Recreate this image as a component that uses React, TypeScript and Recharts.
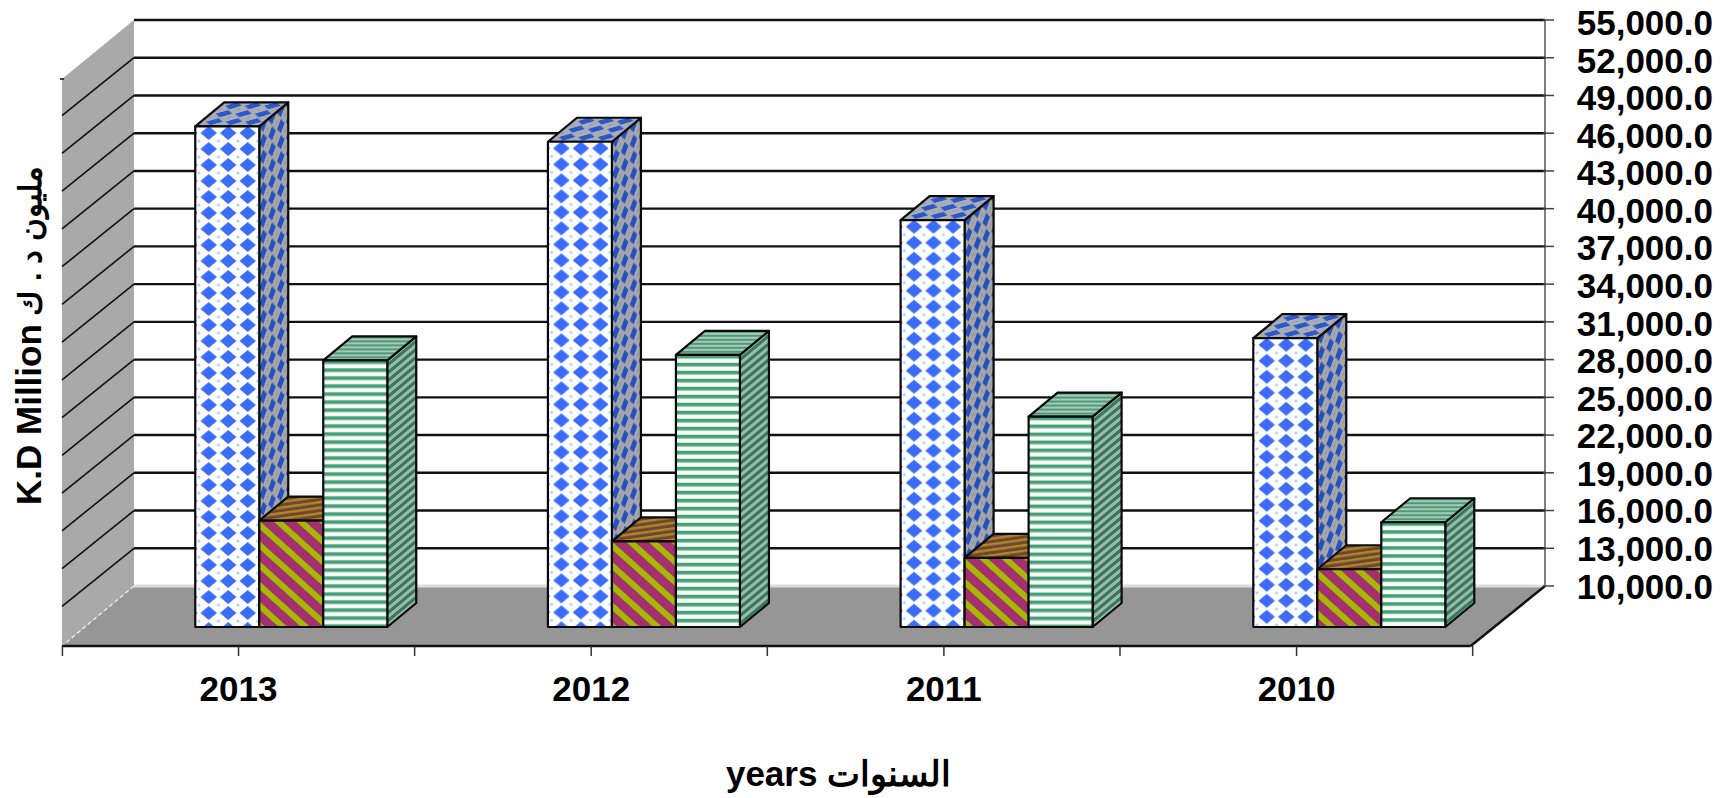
import { BarChart, Bar, XAxis, YAxis, CartesianGrid } from 'recharts';

const years = ['2013', '2012', '2011', '2010'];
const totalAssets = [49800, 48580, 42350, 32960];
const smallSeries = [18460, 16810, 15490, 14590];
const greenSeries = [31200, 31640, 26730, 18330];

const yTicks = [10000, 13000, 16000, 19000, 22000, 25000, 28000, 31000, 34000, 37000, 40000, 43000, 46000, 49000, 52000, 55000];
const minorTicks = [10000, 12000, 14000, 16000, 18000, 20000, 22000, 24000, 26000, 28000, 30000, 32000, 34000, 36000, 38000, 40000, 42000, 44000, 46000, 48000, 50000, 52000, 54000];

const data = years.map((year, i) => ({
  year,
  blue: totalAssets[i],
  purple: smallSeries[i],
  green: greenSeries[i],
}));

const WIDTH = 1729;
const HEIGHT = 798;
const FONT = '"Liberation Sans", Arial, sans-serif';

// the bars stand on a plane inside the 3d box, the walls are offset from it
const BAR_DX = 29;
const BAR_DY = 24;
const WALL_LEFT = 134;
const WALL_RIGHT = 1545;
const WALL_TOP = 20;
const WALL_BOTTOM = 586;
const FRONT_LEFT = 62;
const FRONT_RIGHT = 1470.7;
const FRONT_Y = 646;
const BACK_SHIFT = -41;
const LABEL_SHIFT = -53;
const HALF_BAND = 176.1;

function Patterns() {
  const diamond = (id: string, bg: string, fg: string, dot: string, transform?: string) => (
    <pattern id={id} x={3.7} y={-1.4} width={19.5} height={16} patternUnits="userSpaceOnUse" patternTransform={transform}>
      <rect width={19.5} height={16} fill={bg} />
      <path d="M1.5 8 L9.75 1 L18 8 L9.75 15 Z" fill={fg} />
      <circle cx={0} cy={0} r={1.6} fill={dot} />
      <circle cx={19.5} cy={0} r={1.6} fill={dot} />
      <circle cx={0} cy={16} r={1.6} fill={dot} />
      <circle cx={19.5} cy={16} r={1.6} fill={dot} />
    </pattern>
  );
  const stripes = (id: string, size: number, band: number, bg: string, fg: string, transform?: string) => (
    <pattern id={id} width={size} height={size} patternUnits="userSpaceOnUse" patternTransform={transform}>
      <rect width={size} height={size} fill={bg} />
      <rect width={size} height={band} fill={fg} />
    </pattern>
  );
  return (
    <defs>
      {diamond('blueFront', '#ffffff', '#3a6cf8', '#b9ccfb')}
      {diamond('blueSide', '#a6a6a6', '#2450c4', '#7f8fb8', 'matrix(0.453,-0.375,0,1,0,0)')}
      {diamond('blueTop', '#a9adb6', '#2b57c8', '#8c9ac0', 'matrix(1,0,-0.6,0.5,0,0)')}
      {stripes('purpleFront', 15, 6, '#a4306f', '#a6b800', 'rotate(42)')}
      {stripes('purpleTop', 5.5, 2.4, '#74442f', '#a98a2a', 'rotate(-8)')}
      {stripes('purpleSide', 8, 3, '#6e2750', '#7d8c10', 'matrix(0.453,-0.375,0,1,0,0)')}
      {stripes('greenFront', 8, 3.6, '#f6fbf8', '#46a077')}
      {stripes('greenSide', 8, 4, '#a4b6ab', '#2f7d5c', 'matrix(1,-0.83,0,1,0,0)')}
      {stripes('greenTop', 4, 2, '#a6cbb8', '#4f9878')}
    </defs>
  );
}

function Box({ x, y, width, height, kind }: any) {
  const stroke = { stroke: '#0a0a0a', strokeWidth: 2.2, strokeLinejoin: 'round' as const };
  return (
    <g transform={`translate(${x},${y})`}>
      <polygon
        points={`${width},0 ${width + BAR_DX},${-BAR_DY} ${width + BAR_DX},${height - BAR_DY} ${width},${height}`}
        fill={`url(#${kind}Side)`}
        {...stroke}
      />
      <polygon
        points={`0,0 ${BAR_DX},${-BAR_DY} ${width + BAR_DX},${-BAR_DY} ${width},0`}
        fill={`url(#${kind}Top)`}
        {...stroke}
      />
      <rect width={width} height={height} fill={`url(#${kind}Front)`} {...stroke} />
    </g>
  );
}

// draws the box walls once and every gridline across back and side wall
function GridLine({ index, x2, y1 }: any) {
  const yBack = y1 + BACK_SHIFT;
  const isFloor = yBack >= WALL_BOTTOM - 1;
  return (
    <g>
      {index === 0 && (
        <g>
          <Patterns />
          <polygon
            points={`${WALL_LEFT},${WALL_TOP} ${WALL_LEFT},${WALL_BOTTOM} ${FRONT_LEFT},${FRONT_Y} ${FRONT_LEFT},79`}
            fill="#a9a9a9"
          />
          <polygon
            points={`${WALL_LEFT},${WALL_BOTTOM} ${WALL_RIGHT},${WALL_BOTTOM} ${FRONT_RIGHT},${FRONT_Y} ${FRONT_LEFT},${FRONT_Y}`}
            fill="#969696"
          />
          <line x1={WALL_LEFT} x2={WALL_RIGHT} y1={WALL_BOTTOM} y2={WALL_BOTTOM} stroke="#dedede" strokeWidth={3} />
          <line x1={WALL_LEFT} x2={FRONT_LEFT} y1={WALL_BOTTOM} y2={FRONT_Y} stroke="#e8e8e8" strokeWidth={1.5} strokeDasharray="4 3" />
          <line x1={WALL_RIGHT} x2={WALL_RIGHT} y1={WALL_TOP} y2={WALL_BOTTOM} stroke="#555" strokeWidth={1.5} />
          <line x1={FRONT_LEFT} x2={FRONT_RIGHT} y1={FRONT_Y} y2={FRONT_Y} stroke="#111" strokeWidth={2.5} />
          <line x1={FRONT_RIGHT} x2={WALL_RIGHT} y1={FRONT_Y} y2={WALL_BOTTOM} stroke="#111" strokeWidth={2.5} />
          <line x1={FRONT_LEFT - 2} x2={FRONT_LEFT + 2} y1={79} y2={79} stroke="#111" strokeWidth={1.5} />
        </g>
      )}
      {!isFloor && <line x1={WALL_LEFT} x2={x2 + 19} y1={yBack} y2={yBack} stroke="#111" strokeWidth={2.4} />}
      {!isFloor && yBack > WALL_TOP + 1 && (
        <line x1={WALL_LEFT} x2={FRONT_LEFT} y1={yBack} y2={yBack + 58} stroke="#111" strokeWidth={1.6} />
      )}
    </g>
  );
}

function YearTick({ x, payload, index }: any) {
  const cx = x + LABEL_SHIFT;
  const marks = index === 0 ? [cx - HALF_BAND, cx, cx + HALF_BAND] : [cx, cx + HALF_BAND];
  return (
    <g>
      {marks.map((m) => (
        <line key={m} x1={m} x2={m} y1={FRONT_Y} y2={FRONT_Y + 10} stroke="#333" strokeWidth={1.5} />
      ))}
      <text x={cx} y={701} textAnchor="middle" fontFamily={FONT} fontWeight="bold" fontSize={35} fill="#000">
        {payload.value}
      </text>
    </g>
  );
}

function ValueTick({ y, payload }: any) {
  const yBack = y + BACK_SHIFT;
  // the printed labels sit on a very slightly tighter pitch than the gridlines
  const baseline = 35 + (yBack - WALL_TOP) * 0.9958;
  return (
    <g>
      <line x1={WALL_RIGHT - 2} x2={WALL_RIGHT + 9} y1={yBack} y2={yBack} stroke="#444" strokeWidth={1.5} />
      <text x={1713} y={baseline} textAnchor="end" fontFamily={FONT} fontWeight="bold" fontSize={35} fill="#000">
        {payload.value.toLocaleString('en-US', { minimumFractionDigits: 1, maximumFractionDigits: 1 })}
      </text>
    </g>
  );
}

function MinorTick({ y }: any) {
  const yBack = y + BACK_SHIFT;
  return <line x1={WALL_RIGHT - 2} x2={WALL_RIGHT + 6} y1={yBack} y2={yBack} stroke="#666" strokeWidth={1.2} />;
}

export default function App() {
  return (
    <div style={{ position: 'absolute', left: 0, top: 0 }}>
      <BarChart
        width={WIDTH}
        height={HEIGHT}
        data={data}
        margin={{ top: 61, left: 115.2, right: 0, bottom: 0 }}
        barCategoryGap="22.7%"
        barGap={0}
      >
        <CartesianGrid horizontal={(props: any) => <GridLine key={props.index} {...props} />} vertical={false} />
        <XAxis
          dataKey="year"
          height={171}
          axisLine={false}
          tickLine={false}
          interval={0}
          tick={(props: any) => <YearTick {...props} />}
          label={{
            value: 'years السنوات',
            position: 'insideBottom',
            offset: 12,
            dx: 18,
            fontFamily: FONT,
            fontWeight: 'bold',
            fontSize: 35,
            fill: '#000',
          }}
        />
        <YAxis
          orientation="right"
          domain={[10000, 55000]}
          ticks={yTicks}
          interval={0}
          width={203.1}
          axisLine={false}
          tickLine={false}
          tick={(props: any) => <ValueTick {...props} />}
        />
        <YAxis
          yAxisId="minor"
          orientation="right"
          domain={[10000, 55000]}
          ticks={minorTicks}
          interval={0}
          width={0}
          axisLine={false}
          tickLine={false}
          tick={(props: any) => <MinorTick {...props} />}
        />
        <Bar dataKey="blue" isAnimationActive={false} shape={(props: any) => <Box {...props} kind="blue" />} />
        <Bar dataKey="purple" isAnimationActive={false} shape={(props: any) => <Box {...props} kind="purple" />} />
        <Bar dataKey="green" isAnimationActive={false} shape={(props: any) => <Box {...props} kind="green" />} />
        <text
          x={505}
          y={-41}
          transform="rotate(-90)"
          textAnchor="start"
          style={{ transform: 'rotate(-90deg)' }}
          fontFamily={FONT}
          fontWeight="bold"
          fontSize={35}
          fill="#000"
        >
          <tspan x={-505} y={41}>K.D Million</tspan>
          <tspan fontSize={31}> مليون د . ك</tspan>
        </text>
      </BarChart>
    </div>
  );
}
